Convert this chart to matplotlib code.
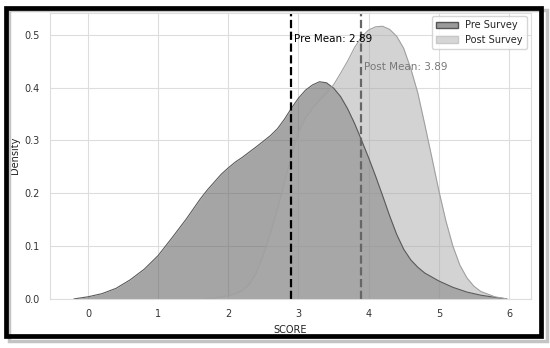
import matplotlib.pyplot as plt
import seaborn as sns
from matplotlib.patches import Rectangle, Patch

# density values (score, density)
pre_x = [-0.2, 0.0, 0.2, 0.4, 0.6, 0.8, 1.0, 1.2, 1.4, 1.5, 1.6, 1.7, 1.8, 1.9,
         2.0, 2.1, 2.2, 2.4, 2.6, 2.7, 2.8, 2.9, 3.0, 3.1, 3.2, 3.3, 3.4, 3.5,
         3.6, 3.7, 3.8, 3.9, 4.0, 4.1, 4.2, 4.3, 4.4, 4.5, 4.6, 4.7, 4.8, 5.0,
         5.2, 5.4, 5.6, 5.8, 5.97]
pre_y = [0.0, 0.004, 0.010, 0.020, 0.036, 0.056, 0.082, 0.116, 0.151, 0.170,
         0.189, 0.206, 0.221, 0.236, 0.248, 0.259, 0.268, 0.288, 0.309, 0.322,
         0.340, 0.361, 0.380, 0.395, 0.405, 0.411, 0.409, 0.399, 0.383, 0.360,
         0.332, 0.300, 0.267, 0.232, 0.195, 0.157, 0.122, 0.094, 0.074, 0.060,
         0.049, 0.034, 0.022, 0.013, 0.007, 0.003, 0.0]

post_x = [1.65, 1.8, 2.0, 2.1, 2.2, 2.3, 2.4, 2.5, 2.6, 2.7, 2.8, 2.9, 3.0,
          3.1, 3.2, 3.3, 3.4, 3.5, 3.6, 3.7, 3.8, 3.9, 4.0, 4.1, 4.2, 4.3, 4.4,
          4.5, 4.6, 4.7, 4.8, 4.9, 5.0, 5.1, 5.2, 5.3, 5.4, 5.5, 5.6, 5.8, 5.97]
post_y = [0.0, 0.002, 0.006, 0.010, 0.016, 0.028, 0.050, 0.084, 0.125, 0.170,
          0.220, 0.272, 0.316, 0.343, 0.361, 0.376, 0.390, 0.405, 0.427, 0.450,
          0.476, 0.496, 0.509, 0.515, 0.516, 0.510, 0.497, 0.474, 0.436, 0.390,
          0.330, 0.268, 0.205, 0.148, 0.100, 0.064, 0.040, 0.024, 0.014, 0.004,
          0.0]

pre_mean = 2.89
post_mean = 3.89

sns.set_style("whitegrid")
plt.rcParams['font.family'] = ['DejaVu Sans']

fig = plt.figure(figsize=(5.5, 3.48), dpi=100)
ax = fig.add_axes([0.091, 0.141, 0.874, 0.823])

# pre survey
ax.fill_between(pre_x, pre_y, color='dimgray', alpha=0.6, linewidth=0)
ax.plot(pre_x, pre_y, color='#5a5a5a', linewidth=0.8)
# post survey on top
ax.fill_between(post_x, post_y, color='darkgray', alpha=0.5, linewidth=0)
ax.plot(post_x, post_y, color='#a0a0a0', linewidth=0.8)

ax.axvline(pre_mean, color='black', linestyle='--', linewidth=1.6)
ax.axvline(post_mean, color='#666666', linestyle='--', linewidth=1.6)
ax.text(pre_mean + 0.05, 0.491, f'Pre Mean: {pre_mean:.2f}', color='black',
        fontsize=7.5, va='center', ha='left')
ax.text(post_mean + 0.05, 0.438, f'Post Mean: {post_mean:.2f}', color='#777777',
        fontsize=7.5, va='center', ha='left')

ax.set_xlim(-0.54, 6.31)
ax.set_ylim(0, 0.542)
ax.set_xticks([0, 1, 2, 3, 4, 5, 6])
ax.set_yticks([0.0, 0.1, 0.2, 0.3, 0.4, 0.5])
ax.tick_params(labelsize=7, colors='#333333', pad=4)
ax.set_xlabel('SCORE', fontsize=7, color='#222222', labelpad=4)
ax.set_ylabel('Density', fontsize=7, color='#222222', labelpad=3)
for s in ax.spines.values():
    s.set_color('#dddddd')
ax.grid(color='#dddddd', linewidth=0.8)

handles = [Patch(facecolor='#9a9a9a', edgecolor='#555555', label='Pre Survey'),
           Patch(facecolor='#d6d6d6', edgecolor='#c8c8c8', label='Post Survey')]
ax.legend(handles=handles, loc='upper right', fontsize=7, frameon=True,
          handlelength=2.2, borderaxespad=0.4)

# outer screenshot frame with a soft shadow
fig.add_artist(Rectangle((9 / 550, 1 - 341 / 348), 538 / 550, 331 / 348,
                         transform=fig.transFigure, fill=False,
                         edgecolor='#c4c4c4', linewidth=2.5))
fig.add_artist(Rectangle((5.5 / 550, 1 - 336 / 348), 535 / 550, 328 / 348,
                         transform=fig.transFigure, fill=False,
                         edgecolor='black', linewidth=3.4))

fig.savefig('out.png', dpi=100)
